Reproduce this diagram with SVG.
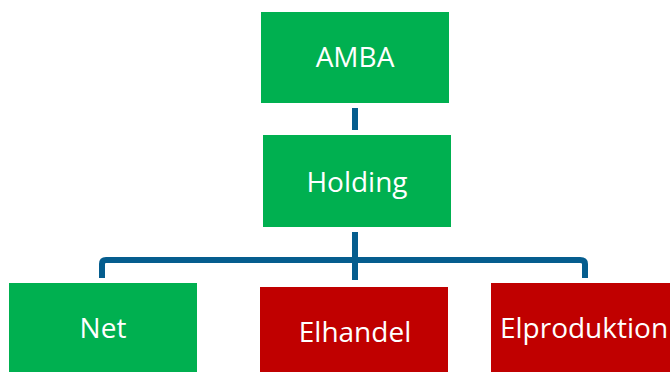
<svg xmlns="http://www.w3.org/2000/svg" width="670" height="372" viewBox="0 0 670 372">
<style>
.g{fill:#00B050}
.r{fill:#C00000}
.t{font-family:"Open Sans","Liberation Sans",sans-serif;font-size:28px;fill:#fff;text-anchor:middle}
.c{fill:none;stroke:#055D8E;stroke-width:6;stroke-linejoin:round}
</style>
<rect width="670" height="372" fill="#fff"/>
<g id="connectors">
<line class="c" x1="355" y1="108" x2="355" y2="130"/>
<line class="c" x1="355" y1="232" x2="355" y2="280"/>
<path class="c" d="M102 278 V264 Q102 260 106 260 H580 Q585 260 585 264 V278"/>
</g>
<g id="amba"><rect class="g" x="261" y="12" width="188" height="91"/><text class="t" x="355" y="67">AMBA</text></g>
<g id="holding"><rect class="g" x="263" y="135" width="188" height="92"/><text class="t" x="357" y="192">Holding</text></g>
<g id="net"><rect class="g" x="9" y="283" width="188" height="95"/><text class="t" x="103" y="338">Net</text></g>
<g id="elhandel"><rect class="r" x="260" y="287" width="188" height="90"/><text class="t" x="355" y="342">Elhandel</text></g>
<g id="elproduktion"><rect class="r" x="491" y="283" width="190" height="95"/><text class="t" x="584" y="338">Elproduktion</text></g>
</svg>
